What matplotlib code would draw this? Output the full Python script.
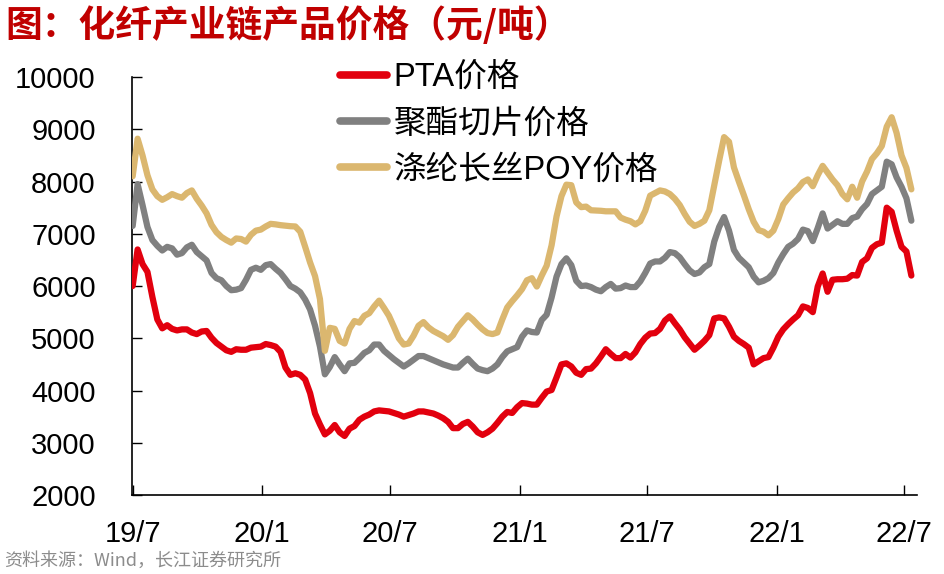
import pandas as pd
import matplotlib
matplotlib.use("Agg")
import matplotlib.pyplot as plt
from matplotlib.lines import Line2D

plt.rcParams['font.family'] = ['Liberation Sans', 'Noto Sans CJK SC', 'DejaVu Sans']

# weekly prices, yuan/ton, 2019-07 .. 2022-07
dates = pd.date_range('2019-07-01', periods=159, freq='7D')

pta = [6000, 6700, 6420, 6270, 5790, 5360, 5190, 5250, 5180, 5150,
       5170, 5170, 5110, 5080, 5130, 5140, 5010, 4910, 4840, 4770,
       4740, 4790, 4780, 4780, 4820, 4830, 4840, 4890, 4870, 4840,
       4740, 4440, 4300, 4330, 4300, 4210, 3950, 3560, 3350, 3160,
       3230, 3340, 3200, 3130, 3270, 3320, 3440, 3500, 3540, 3600,
       3620, 3610, 3600, 3570, 3540, 3500, 3530, 3560, 3600, 3600,
       3580, 3560, 3520, 3470, 3400, 3280, 3280, 3360, 3400, 3310,
       3200, 3150, 3200, 3270, 3380, 3500, 3590, 3570, 3680, 3760,
       3750, 3730, 3730, 3860, 3980, 4010, 4250, 4500, 4520, 4460,
       4340, 4300, 4410, 4420, 4520, 4650, 4790, 4700, 4620, 4620,
       4700, 4630, 4730, 4890, 5010, 5090, 5100, 5180, 5340, 5420,
       5290, 5170, 5020, 4900, 4780, 4860, 4950, 5060, 5380, 5400,
       5380, 5220, 5030, 4950, 4890, 4820, 4500, 4560, 4620, 4640,
       4820, 5030, 5170, 5270, 5360, 5440, 5610, 5580, 5500, 5990,
       6240, 5890, 6120, 6130, 6130, 6140, 6210, 6200, 6460, 6530,
       6730, 6800, 6830, 7500, 7420, 7060, 6750, 6660, 6200]

chip = [7150, 7950, 7550, 7130, 6880, 6770, 6680, 6750, 6720, 6600,
        6630, 6740, 6790, 6650, 6570, 6490, 6250, 6150, 6110, 6000,
        5920, 5930, 5960, 6120, 6310, 6350, 6310, 6400, 6420, 6330,
        6250, 6130, 6000, 5950, 5880, 5740, 5550, 5240, 4840, 4310,
        4450, 4640, 4500, 4370, 4520, 4530, 4620, 4720, 4770, 4880,
        4880, 4760, 4680, 4600, 4530, 4460, 4520, 4590, 4660, 4660,
        4620, 4580, 4540, 4500, 4470, 4440, 4440, 4530, 4610, 4510,
        4420, 4390, 4370, 4420, 4500, 4640, 4750, 4790, 4830, 5030,
        5150, 5120, 5110, 5350, 5450, 5780, 6180, 6420, 6530, 6400,
        6100, 6000, 6010, 5980, 5930, 5900, 5980, 6040, 5950, 5960,
        6010, 5980, 5980, 6090, 6250, 6430, 6470, 6470, 6540, 6650,
        6630, 6550, 6420, 6300, 6230, 6260, 6360, 6420, 6850, 7130,
        7320, 7060, 6690, 6540, 6450, 6360, 6180, 6070, 6100, 6150,
        6250, 6450, 6610, 6750, 6810, 6900, 7080, 7050, 6860, 7110,
        7390, 7100, 7170, 7240, 7190, 7190, 7300, 7330, 7470, 7570,
        7760, 7830, 7900, 8380, 8330, 8080, 7900, 7680, 7250]

poy = [8100, 8820, 8500, 8120, 7850, 7720, 7650, 7700, 7760, 7720,
       7690, 7780, 7830, 7670, 7540, 7390, 7170, 7030, 6940, 6880,
       6830, 6910, 6900, 6850, 6980, 7060, 7080, 7140, 7190, 7180,
       7165, 7155, 7145, 7140, 7040, 6750, 6450, 6190, 5750, 4760,
       5200, 5180, 4950, 4900, 5180, 5330, 5300, 5430, 5480, 5610,
       5720, 5580, 5430, 5220, 5000, 4880, 4900, 5050, 5240, 5310,
       5210, 5140, 5090, 5040, 4970, 5060, 5220, 5330, 5440, 5360,
       5260, 5170, 5100, 5080, 5110, 5360, 5590, 5710, 5820, 5940,
       6110, 6150, 5990, 6200, 6390, 6780, 7330, 7720, 7940, 7930,
       7600, 7510, 7520, 7450, 7445, 7440, 7430, 7430, 7430, 7310,
       7270, 7240, 7180, 7240, 7440, 7730, 7780, 7830, 7810, 7760,
       7670, 7550, 7380, 7230, 7150, 7190, 7250, 7450, 7930, 8400,
       8850, 8760, 8270, 8000, 7740, 7470, 7230, 7070, 7040, 6970,
       7060, 7280, 7560, 7680, 7790, 7870, 7990, 8040, 7910, 8120,
       8300, 8170, 8040, 7930, 7760, 7660, 7900, 7690, 8000, 8190,
       8430, 8540, 8680, 9050, 9230, 8930, 8500, 8260, 7850]

names = ['PTA价格', '聚酯切片价格', '涤纶长丝POY价格']
colors = ['#E2000E', '#808080', '#DBB76F']
tick_dates = ['2019-07-01', '2020-01-01', '2020-07-01', '2021-01-01',
              '2021-07-01', '2022-01-01', '2022-07-01']
tick_labels = ['19/7', '20/1', '20/7', '21/1', '21/7', '22/1', '22/7']
y_ticks = [2000, 3000, 4000, 5000, 6000, 7000, 8000, 9000, 10000]

fig = plt.figure(figsize=(9.44, 5.74), dpi=100)
ax = fig.add_axes([0.1398, 0.1376, 0.8316, 0.7282])

for series, c in zip([pta, chip, poy], colors):
    ax.plot(dates, series, color=c, lw=4.5, solid_joinstyle='round',
            solid_capstyle='round', zorder=3)

ax.set_xlim(pd.Timestamp('2019-06-30'), pd.Timestamp('2022-07-19'))
ax.set_ylim(2000, 10000)
ax.set_xticks(pd.to_datetime(tick_dates))
ax.set_xticklabels(tick_labels)
ax.set_yticks(y_ticks)
ax.set_yticklabels([str(v) for v in y_ticks])

for s in ['top', 'right']:
    ax.spines[s].set_visible(False)
for s in ['left', 'bottom']:
    ax.spines[s].set_linewidth(1.2)
ax.tick_params(axis='both', direction='in', length=7, width=1, labelsize=21)
ax.tick_params(axis='x', pad=18)
ax.tick_params(axis='y', pad=26)

handles = [Line2D([], [], color=c, lw=5.5, solid_capstyle='round') for c in colors]
fig.legend(handles, names, loc='upper left', bbox_to_anchor=(340 / 944, 1 - 62 / 574),
           frameon=False, fontsize=23.5, handlelength=1.45, handletextpad=0.2,
           labelspacing=0.47, borderpad=0, borderaxespad=0)

fig.text(5 / 944, 1 - 26 / 574, '图：化纤产业链产品价格（元/吨）', fontsize=26.5,
         fontweight='heavy', color='#C00000', va='center', ha='left',
         family=['Noto Sans CJK SC'])
fig.text(4 / 944, 1 - 566 / 574, '资料来源：Wind，长江证券研究所', fontsize=13,
         color='#8C8C8C', va='baseline', ha='left',
         family=['Noto Sans CJK SC'])

fig.savefig('out.png', dpi=100)
